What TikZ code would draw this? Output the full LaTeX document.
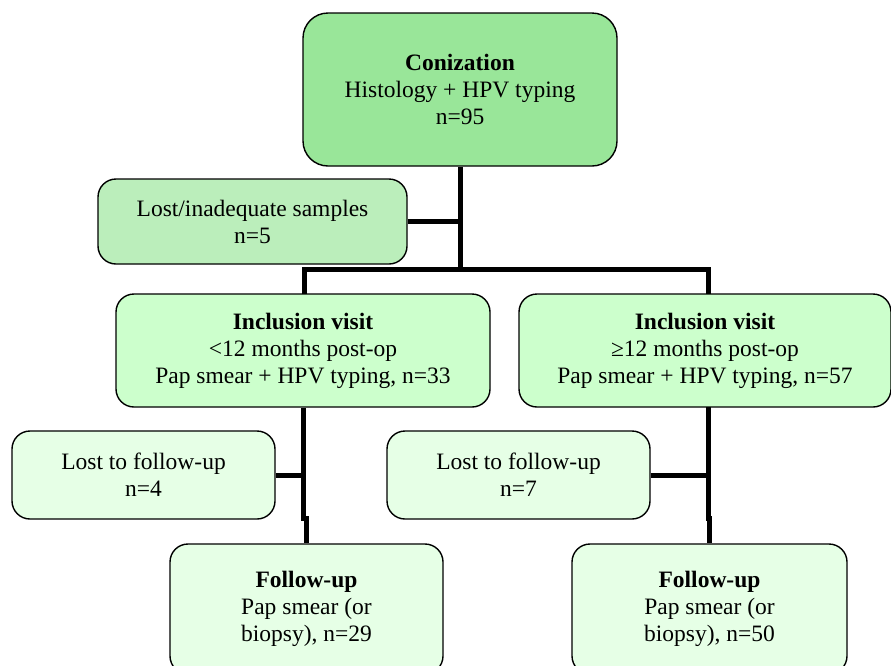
\documentclass[tikz,border=0pt]{standalone}
\usepackage{fontspec}
\setmainfont{Liberation Serif}
\definecolor{conizefill}{RGB}{153,230,153}
\definecolor{lostfill}{RGB}{187,238,187}
\definecolor{inclfill}{RGB}{204,255,204}
\definecolor{paleFill}{RGB}{230,255,230}
\begin{document}
\begin{tikzpicture}[x=1pt,y=-1pt,
  box/.style={draw,line width=1.4pt,rounded corners=18pt,align=center,inner sep=0pt,
    font=\fontsize{23.5}{27}\selectfont},
  link/.style={line width=5pt}]
\useasboundingbox (0,0) rectangle (891,665);

\node[box,fill=conizefill,rounded corners=25pt,minimum width=314pt,minimum height=153pt] (conize) at (460,89.5)
  {\textbf{Conization}\\Histology + HPV typing\\n=95};
\node[box,fill=lostfill,minimum width=309pt,minimum height=85pt] (lostsamp) at (252.5,221.5)
  {Lost/inadequate samples\\n=5};

\node[box,fill=inclfill,minimum width=374pt,minimum height=113pt] (inclL) at (303,350.5)
  {\textbf{Inclusion visit}\\<12 months post-op\\Pap smear + HPV typing, n=33};
\node[box,fill=inclfill,minimum width=372pt,minimum height=113pt] (inclR) at (705,350.5)
  {\textbf{Inclusion visit}\\≥12 months post-op\\Pap smear + HPV typing, n=57};

\node[box,fill=paleFill,minimum width=263pt,minimum height=88pt] (lostL) at (143.5,475)
  {Lost to follow-up\\n=4};
\node[box,fill=paleFill,minimum width=263pt,minimum height=88pt] (lostR) at (518.5,475)
  {Lost to follow-up\\n=7};

\node[box,fill=paleFill,minimum width=273pt,minimum height=130pt] (followL) at (306.5,609)
  {\textbf{Follow-up}\\Pap smear (or\\biopsy), n=29};
\node[box,fill=paleFill,minimum width=275pt,minimum height=130pt] (followR) at (709.5,609)
  {\textbf{Follow-up}\\Pap smear (or\\biopsy), n=50};

% tree connectors
\coordinate (split) at (460,269);
\coordinate (tapL) at (304,294);
\coordinate (tapR) at (708,294);
\coordinate (dropR) at (708,407);
\draw[link] (conize.south) -- (split);
\draw[link] (lostsamp.east) -- (lostsamp.east -| split);
\draw[link] (tapL) |- (split) -| (tapR);

\draw[link] (inclL.south) -- ++(0,111) -| (followL.north);
\draw[link] (lostL.east) -- (lostL.east -| inclL.south);
\draw[link] (dropR) -- ++(0,111) -| (followR.north);
\draw[link] (lostR.east) -- (lostR.east -| dropR);
\end{tikzpicture}
\end{document}
